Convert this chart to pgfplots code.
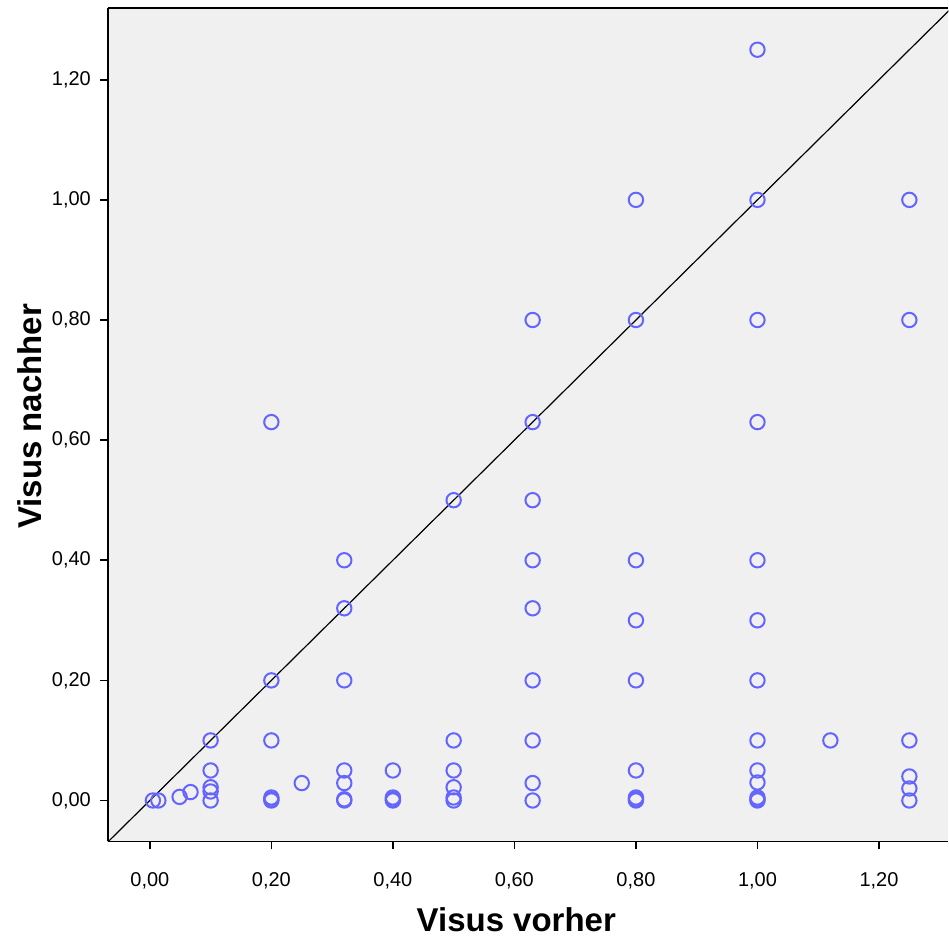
\documentclass[border=0pt]{standalone}
\usepackage{pgfplots}
\pgfplotsset{compat=1.18}
\usepackage{fontspec}
\setmainfont{Liberation Sans}
\definecolor{bgc}{RGB}{240,240,240}
\definecolor{ptc}{RGB}{100,100,255}

\begin{document}
\begin{tikzpicture}
\begin{axis}[
  scale only axis, width=420.5pt, height=417pt,
  xmin=-0.069, xmax=1.314, ymin=-0.068, ymax=1.3195,
  axis x line=box, axis y line=left,
  axis line style={line width=0.75pt, -},
  axis background/.style={fill=bgc},
  xtick={0,0.2,...,1.21}, ytick={0,0.2,...,1.21},
  xtick pos=bottom, ytick pos=left, tick align=outside,
  major tick length=4pt, tick style={line width=0.75pt, black},
  /pgf/number format/.cd, use comma, fixed, fixed zerofill, precision=2, assume math mode=true,
  /pgfplots/.cd,
  ticklabel style={font=\fontsize{10}{12}\selectfont},
  xticklabel style={yshift=-8pt},
  yticklabel style={xshift=-1pt},
  xlabel={Visus vorher}, ylabel={Visus nachher},
  xlabel style={font=\bfseries\fontsize{16.5}{19}\selectfont, at={(axis description cs:0.486,-0.094)}, anchor=center},
  ylabel style={font=\bfseries\fontsize{16.5}{19}\selectfont, at={(axis description cs:-0.093,0.51)}, anchor=center, rotate=0},
  clip=true]
\addplot[black, line width=0.6pt] coordinates {(-0.1,-0.1) (1.4,1.4)};
\addplot[only marks, mark=o, mark size=3.6pt, mark options={draw=ptc, line width=1pt}] coordinates {
(0.005,0)(0.014,0)(0.049,0.006)(0.067,0.014)
(0.10,0.10)(0.10,0.05)(0.10,0.022)(0.10,0.015)(0.10,0)
(0.20,0.63)(0.20,0.20)(0.20,0.10)(0.20,0.005)(0.20,0.002)(0.20,0)
(0.25,0.029)
(0.32,0.40)(0.32,0.32)(0.32,0.20)(0.32,0.05)(0.32,0.029)(0.32,0)(0.32,0.002)
(0.40,0.05)(0.40,0.005)(0.40,0.002)(0.40,0)
(0.50,0.50)(0.50,0.10)(0.50,0.05)(0.50,0.022)(0.50,0.005)(0.50,0)
(0.63,0.80)(0.63,0.63)(0.63,0.50)(0.63,0.40)(0.63,0.32)(0.63,0.20)(0.63,0.10)(0.63,0.029)(0.63,0)
(0.80,1.00)(0.80,0.80)(0.80,0.40)(0.80,0.30)(0.80,0.20)(0.80,0.05)(0.80,0.005)(0.80,0.002)(0.80,0)
(1.00,1.25)(1.00,1.00)(1.00,0.80)(1.00,0.63)(1.00,0.40)(1.00,0.30)(1.00,0.20)(1.00,0.10)(1.00,0.05)(1.00,0.03)(1.00,0.005)(1.00,0.002)(1.00,0)
(1.12,0.10)
(1.25,1.00)(1.25,0.80)(1.25,0.10)(1.25,0.04)(1.25,0.02)(1.25,0)
};
\end{axis}
\path (current axis.south west) ++(-54pt,-52pt) (current axis.north east) ++(0,4pt);
\end{tikzpicture}
\end{document}
